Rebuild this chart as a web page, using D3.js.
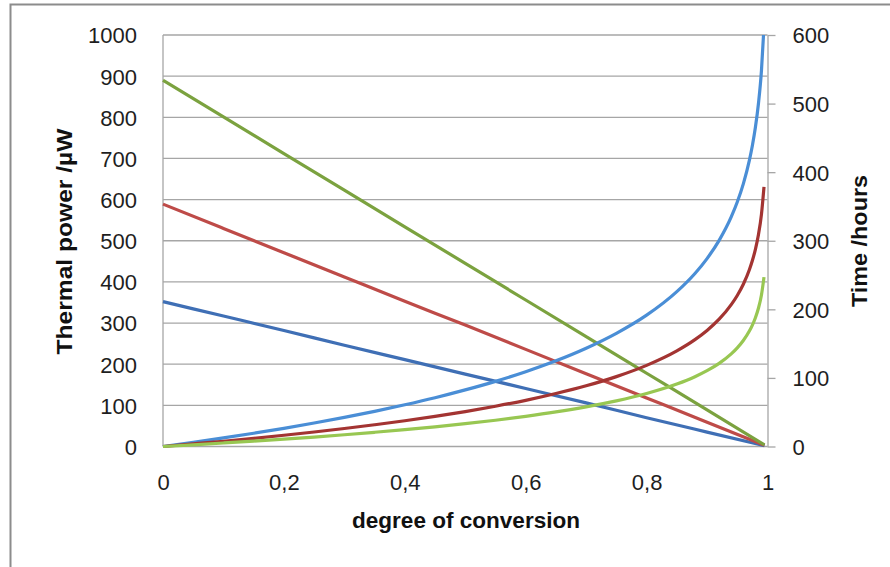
<!DOCTYPE html>
<html>
<head>
<meta charset="utf-8">
<script src="https://cdn.jsdelivr.net/npm/d3@7"></script>
<style>
  body { margin: 0; background: #fff; }
  svg { display: block; font-family: "Liberation Sans", Arial, sans-serif; }
  .tick text { fill: #1e1e1e; font-size: 22px; font-family: "Liberation Sans", Arial, sans-serif; }
  .axis-title { fill: #111; font-weight: bold; font-size: 22px; }
</style>
</head>
<body>
<svg id="chart" width="890" height="567"></svg>
<script>
// x axis: degree of conversion
var xTicks = [0, 0.2, 0.4, 0.6, 0.8, 1];
var powerTicks = [0, 100, 200, 300, 400, 500, 600, 700, 800, 900, 1000];
var timeTicks = [0, 100, 200, 300, 400, 500, 600];

// thermal power (left axis, µW)
var degPower = [0, 0.1, 0.2, 0.3, 0.4, 0.5, 0.6, 0.7, 0.8, 0.9, 0.995];
var powerBlue = [352, 317, 282, 246, 211, 176, 141, 106, 70, 35, 2];
var powerRed = [589, 530, 471, 412, 353, 295, 236, 177, 118, 59, 3];
var powerGreen = [890, 801, 712, 623, 534, 445, 356, 267, 178, 89, 4];

// time (right axis, hours)
var degTime = [0, 0.05, 0.1, 0.15, 0.2, 0.25, 0.3, 0.35, 0.4, 0.45, 0.5, 0.55, 0.6, 0.65, 0.7,
               0.75, 0.8, 0.85, 0.88, 0.9, 0.92, 0.94, 0.95, 0.96, 0.97, 0.975, 0.98, 0.985, 0.99, 0.9942];
var degTimeBlue = [0, 0.05, 0.1, 0.15, 0.2, 0.25, 0.3, 0.35, 0.4, 0.45, 0.5, 0.55, 0.6, 0.65, 0.7,
               0.75, 0.8, 0.85, 0.88, 0.9, 0.92, 0.94, 0.95, 0.96, 0.97, 0.975, 0.98, 0.985, 0.99, 0.9934];
var timeBlue = [0, 6.1, 12.5, 19.3, 26.5, 34.2, 42.4, 51.3, 60.8, 71.1, 82.5, 95, 109, 124.9, 143.3,
                165, 191.5, 225.8, 252.3, 274, 300.6, 334.8, 356.5, 383, 417.3, 439, 465.5, 499.8, 548, 600];
var timeRed = [0, 3.8, 7.7, 11.9, 16.4, 21.1, 26.2, 31.7, 37.5, 43.9, 50.9, 58.7, 67.3, 77.2, 88.5,
               101.9, 118.3, 139.4, 155.8, 169.2, 185.6, 206.8, 220.2, 236.6, 257.7, 271.1, 287.5, 308.7, 338.5, 378.5];
var timeGreen = [0, 2.5, 5.1, 7.8, 10.7, 13.8, 17.1, 20.7, 24.5, 28.7, 33.3, 38.3, 44, 50.4, 57.8,
                 66.5, 77.3, 91.1, 101.8, 110.5, 121.2, 135, 143.8, 154.5, 168.3, 177.1, 187.8, 201.6, 221, 247];

(function() {
    var svg = d3.select('#chart');
    var plotLeft = 163, plotRight = 767.5, plotTop = 35, plotBottom = 446.5;

    var x = d3.scaleLinear().domain([0, 1]).range([plotLeft, plotRight]);
    var yPower = d3.scaleLinear().domain([0, 1000]).range([plotBottom, plotTop]);
    var yTime = d3.scaleLinear().domain([0, 600]).range([plotBottom, plotTop]);

    // outer chart frame (cropped at right/bottom)
    svg.append('path')
        .attr('d', 'M10.5,567 V4.5 H890')
        .attr('fill', 'none')
        .attr('stroke', '#8c8c8c')
        .attr('stroke-width', 2);

    // gridlines
    svg.append('g')
        .selectAll('line')
        .data(powerTicks)
        .enter().append('line')
        .attr('x1', plotLeft).attr('x2', plotRight)
        .attr('y1', function(d) { return yPower(d); })
        .attr('y2', function(d) { return yPower(d); })
        .attr('stroke', '#a6a6a6')
        .attr('stroke-width', 1.3);

    svg.append('line')
        .attr('x1', plotLeft).attr('x2', plotLeft).attr('y1', plotTop).attr('y2', plotBottom)
        .attr('stroke', '#a6a6a6').attr('stroke-width', 1.3);

    var fmt = function(d) { return d3.format('~g')(d).replace('.', ','); };

    svg.append('g')
        .attr('transform', 'translate(' + plotLeft + ',0)')
        .call(d3.axisLeft(yPower).tickValues(powerTicks).tickFormat(d3.format('d')).tickSize(0).tickPadding(26))
        .call(function(g) { g.select('.domain').remove(); })
        .selectAll('text').attr('dy', '0.36em');

    svg.append('g')
        .attr('transform', 'translate(0,' + plotBottom + ')')
        .call(d3.axisBottom(x).tickValues(xTicks).tickFormat(fmt).tickSize(0).tickPadding(28))
        .call(function(g) { g.select('.domain').remove(); });

    var rightAxis = svg.append('g')
        .attr('transform', 'translate(' + plotRight + ',0)')
        .call(d3.axisRight(yTime).tickValues(timeTicks).tickFormat(d3.format('d'))
            .tickSize(8).tickSizeOuter(0).tickPadding(17));
    rightAxis.select('.domain').attr('stroke', '#a6a6a6').attr('stroke-width', 1.3);
    rightAxis.selectAll('.tick line').attr('stroke', '#a6a6a6').attr('stroke-width', 1.3);
    rightAxis.selectAll('text').attr('dy', '0.36em');

    // series
    var line = function(xs, scale) {
        return d3.line()
            .x(function(d, i) { return x(xs[i]); })
            .y(function(d) { return scale(d); })
            .curve(d3.curveMonotoneX);
    };

    var series = [
        { xs: degPower, values: powerBlue, scale: yPower, color: '#3f6fb5' },
        { xs: degPower, values: powerRed, scale: yPower, color: '#be4b48' },
        { xs: degPower, values: powerGreen, scale: yPower, color: '#7ba23f' },
        { xs: degTimeBlue, values: timeBlue, scale: yTime, color: '#4a8ed6' },
        { xs: degTime, values: timeRed, scale: yTime, color: '#a33432' },
        { xs: degTime, values: timeGreen, scale: yTime, color: '#98c752' }
    ];

    svg.append('g')
        .selectAll('path')
        .data(series)
        .enter().append('path')
        .attr('fill', 'none')
        .attr('stroke', function(d) { return d.color; })
        .attr('stroke-width', 3.2)
        .attr('stroke-linejoin', 'round')
        .attr('d', function(d) { return line(d.xs, d.scale)(d.values); });

    // axis titles
    svg.append('text')
        .attr('class', 'axis-title')
        .attr('transform', 'translate(72,241.5) rotate(-90)')
        .attr('text-anchor', 'middle')
        .attr('textLength', 226)
        .attr('lengthAdjust', 'spacingAndGlyphs')
        .text('Thermal power /µW');

    svg.append('text')
        .attr('class', 'axis-title')
        .attr('transform', 'translate(867,241) rotate(-90)')
        .attr('text-anchor', 'middle')
        .attr('textLength', 132)
        .attr('lengthAdjust', 'spacingAndGlyphs')
        .text('Time /hours');

    svg.append('text')
        .attr('class', 'axis-title')
        .attr('x', 466)
        .attr('y', 528)
        .attr('text-anchor', 'middle')
        .attr('textLength', 228)
        .attr('lengthAdjust', 'spacingAndGlyphs')
        .text('degree of conversion');
})();
</script>
</body>
</html>
